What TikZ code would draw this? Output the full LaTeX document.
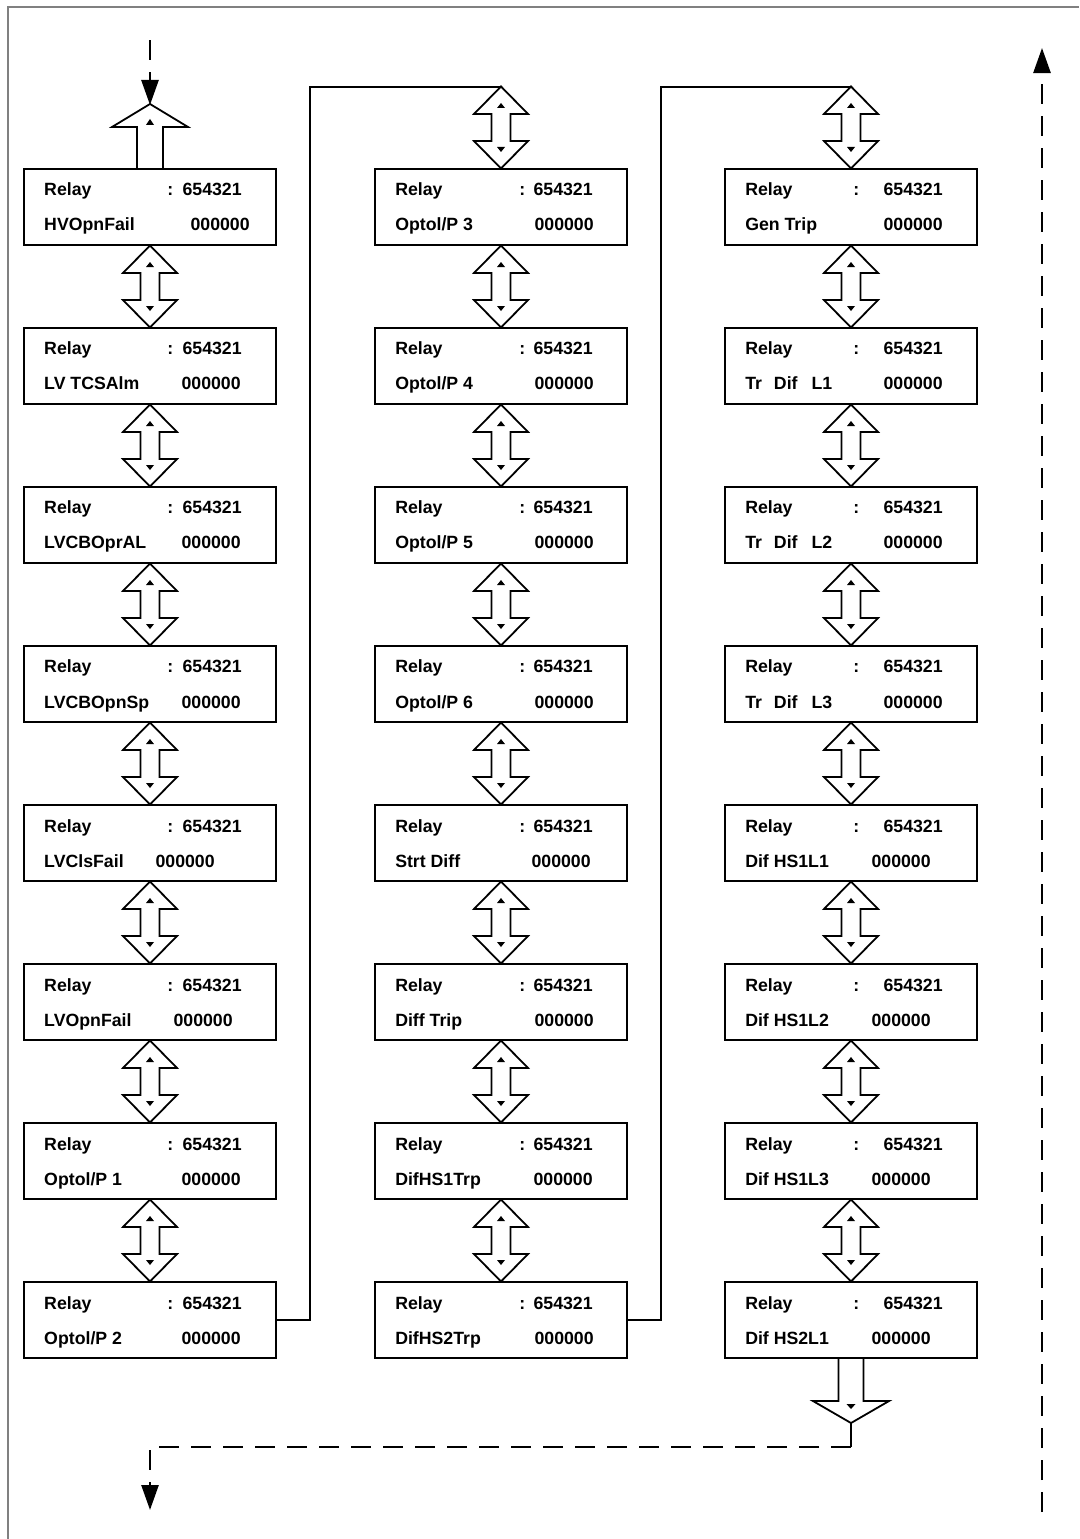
\documentclass[tikz,border=0pt]{standalone}
\usepackage{fontspec}
\setmainfont{Liberation Sans}
\usetikzlibrary{arrows.meta,calc}

% one relay display: name, centre, signal, right edge of value, colon offset
\newcommand{\relaybox}[5]{%
  \node[relaybox] (#1) at (#2) {};
  \node[relaytxt, anchor=base west] at ([shift={(21,28)}]#1.north west) {Relay};
  \node[relaytxt, anchor=base west] at ([shift={(#5,28)}]#1.north west) {:};
  \node[relaytxt, anchor=base east] at ([shift={(219,28)}]#1.north west) {654321};
  \node[relaytxt, anchor=base west] at ([shift={(21,63)}]#1.north west) {#3};
  \node[relaytxt, anchor=base east] at ([shift={(#4,63)}]#1.north west) {000000};
}

\begin{document}
\begin{tikzpicture}[x=0.025cm, y=-0.025cm,
  relaybox/.style={draw, rectangle, line width=0.05cm, minimum width=6.3cm, minimum height=1.9cm, inner sep=0pt},
  relaytxt/.style={inner sep=0pt, font=\bfseries\fontsize{12.6}{14}\selectfont},
  blockline/.style={line width=0.045cm, line join=miter},
  wire/.style={line width=0.05cm},
  flow/.style={line width=0.065cm, dash pattern=on 0.5cm off 0.3cm, -{Triangle[length=0.625cm,width=0.425cm]}},
  frame/.style={draw=gray, line width=0.05cm},
  updown/.pic={
    \draw[blockline] (0,-41) -- (27,-13.5) -- (9.5,-13.5) -- (9.5,13.5) -- (27,13.5) -- (0,41)
      -- (-27,13.5) -- (-9.5,13.5) -- (-9.5,-13.5) -- (-27,-13.5) -- cycle;
    \fill (0,-24.5) -- (4,-19.5) -- (-4,-19.5) -- cycle;
    \fill (0,24.5) -- (4,19.5) -- (-4,19.5) -- cycle;
  },
  uparrow/.pic={
    \draw[blockline] (-13,0) -- (-13,-41) -- (-38,-41) -- (0,-64) -- (38,-41) -- (13,-41) -- (13,0);
    \fill (0,-49) -- (4,-43) -- (-4,-43) -- cycle;
  },
  downarrow/.pic={
    \draw[blockline] (-12.5,0) -- (-12.5,42) -- (-38,42) -- (0,64) -- (38,42) -- (12.5,42) -- (12.5,0);
    \fill (0,50) -- (4.5,45) -- (-4.5,45) -- cycle;
  }]

  \useasboundingbox (0,0) rectangle (1079,1539);
  \draw[frame] (8,1539) -- (8,7) -- (1079,7);

  % first column
  \relaybox{a1}{150,207}{HVOpnFail}{227}{144}
  \relaybox{a2}{150,366}{LV TCSAlm}{218}{144}
  \relaybox{a3}{150,525}{LVCBOprAL}{218}{144}
  \relaybox{a4}{150,684}{LVCBOpnSp}{218}{144}
  \relaybox{a5}{150,843}{LVClsFail}{192}{144}
  \relaybox{a6}{150,1002}{LVOpnFail}{210}{144}
  \relaybox{a7}{150,1161}{Optol/P 1}{218}{144}
  \relaybox{a8}{150,1320}{Optol/P 2}{218}{144}

  % second column
  \relaybox{b1}{501,207}{Optol/P 3}{220}{145}
  \relaybox{b2}{501,366}{Optol/P 4}{220}{145}
  \relaybox{b3}{501,525}{Optol/P 5}{220}{145}
  \relaybox{b4}{501,684}{Optol/P 6}{220}{145}
  \relaybox{b5}{501,843}{Strt Diff}{217}{145}
  \relaybox{b6}{501,1002}{Diff Trip}{220}{145}
  \relaybox{b7}{501,1161}{DifHS1Trp}{219}{145}
  \relaybox{b8}{501,1320}{DifHS2Trp}{220}{145}

  % third column
  \relaybox{c1}{851,207}{Gen Trip}{219}{129}
  \relaybox{c2}{851,366}{Tr\hspace{0.3cm}Dif\hspace{0.35cm}L1}{219}{129}
  \relaybox{c3}{851,525}{Tr\hspace{0.3cm}Dif\hspace{0.35cm}L2}{219}{129}
  \relaybox{c4}{851,684}{Tr\hspace{0.3cm}Dif\hspace{0.35cm}L3}{219}{129}
  \relaybox{c5}{851,843}{Dif HS1L1}{207}{129}
  \relaybox{c6}{851,1002}{Dif HS1L2}{207}{129}
  \relaybox{c7}{851,1161}{Dif HS1L3}{207}{129}
  \relaybox{c8}{851,1320}{Dif HS2L1}{207}{129}

  \coordinate (entry) at (150,40);
  \coordinate (entrytip) at (150,105);
  \coordinate (topb) at (501,87);
  \coordinate (topc) at (851,87);
  \coordinate (exittip) at (851,1423);
  \coordinate (exitturn) at (851,1447);
  \coordinate (exitend) at (150,1510);
  \coordinate (loopfoot) at (1042,1512);
  \coordinate (looptop) at (1042,48);

  % scroll arrows
  \foreach \col in {a,b,c}
    \foreach \r/\n in {1/2,2/3,3/4,4/5,5/6,6/7,7/8}
      \pic at ($(\col\r.south)!.5!(\col\n.north)$) {updown};
  \pic at ($(topb)!.5!(b1.north)$) {updown};
  \pic at ($(topc)!.5!(c1.north)$) {updown};
  \pic at (a1.north) {uparrow};
  \pic at (c8.south) {downarrow};

  \draw[wire] (a8.east) -- ++(33,0) |- (topb);
  \draw[wire] (b8.east) -- ++(33,0) |- (topc);

  \draw[flow] (entry) -- (entrytip);
  \draw[wire] (exittip) -- (exitturn);
  \draw[flow] (exitturn) -| (exitend);
  \draw[flow] (loopfoot) -- (looptop);
\end{tikzpicture}
\end{document}
